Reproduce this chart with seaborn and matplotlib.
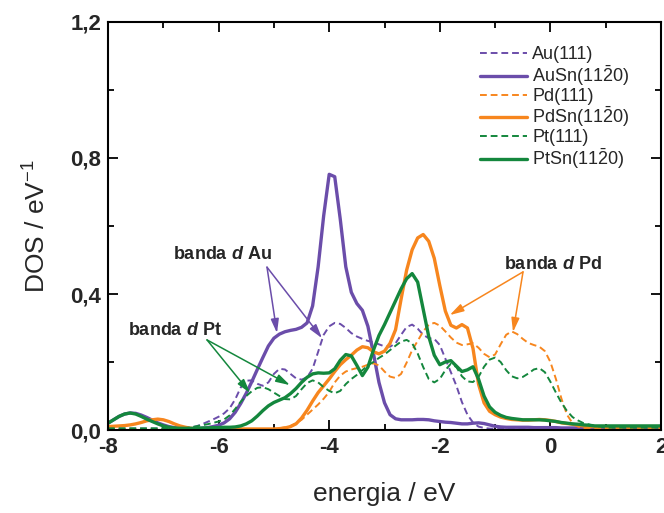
import numpy as np
import pandas as pd
import matplotlib
matplotlib.use("Agg")
import matplotlib.pyplot as plt
import seaborn as sns
from matplotlib.ticker import MultipleLocator, FuncFormatter

# ---------------- data ----------------
energy = np.round(np.arange(-80, 21) / 10.0, 1)   # eV grid, -8.0 ... 2.0

au_111 = [0.004]*15 + [
    0.007, 0.011, 0.017, 0.024, 0.031, 0.039, 0.049, 0.064, 0.090, 0.125,
    0.145, 0.146, 0.136, 0.130, 0.140, 0.165, 0.180, 0.178, 0.165, 0.152,
    0.148, 0.155, 0.180, 0.230, 0.280, 0.305, 0.315, 0.312, 0.300, 0.285,
    0.275, 0.268, 0.262, 0.258, 0.252, 0.246, 0.245, 0.255, 0.280, 0.303,
    0.310, 0.298, 0.280, 0.270, 0.268, 0.250, 0.210, 0.170, 0.130, 0.082,
    0.045, 0.022, 0.010, 0.006] + [0.004]*32

au_sn = [
    0.020, 0.030, 0.040, 0.047, 0.050, 0.049, 0.044, 0.037, 0.029, 0.021,
    0.015, 0.010, 0.007, 0.005, 0.004, 0.004, 0.004, 0.005, 0.007, 0.010,
    0.014, 0.021, 0.033, 0.052, 0.078, 0.108, 0.142, 0.178, 0.213, 0.247,
    0.270, 0.282, 0.289, 0.293, 0.296, 0.302, 0.315, 0.365, 0.480, 0.630,
    0.752, 0.745, 0.620, 0.480, 0.405, 0.372, 0.352, 0.305, 0.225, 0.140,
    0.080, 0.045, 0.033, 0.030, 0.030, 0.030, 0.031, 0.031, 0.030, 0.027,
    0.025, 0.023, 0.022, 0.020, 0.018, 0.018, 0.020, 0.021, 0.019, 0.015,
    0.011, 0.009, 0.008, 0.008, 0.008, 0.008, 0.008, 0.007, 0.007, 0.007,
    0.007, 0.007, 0.006, 0.006, 0.006, 0.006, 0.006, 0.006, 0.005, 0.005,
    0.005, 0.005, 0.005, 0.005, 0.005, 0.004, 0.004, 0.004, 0.004, 0.004,
    0.004]

pd_111 = [0.003]*31 + [
    0.005, 0.008, 0.012, 0.020, 0.030, 0.045, 0.060, 0.075, 0.092, 0.112,
    0.140, 0.160, 0.172, 0.178, 0.182, 0.186, 0.192, 0.196, 0.190, 0.172,
    0.157, 0.153, 0.165, 0.198, 0.235, 0.262, 0.290, 0.310, 0.315, 0.307,
    0.290, 0.272, 0.257, 0.250, 0.252, 0.255, 0.242, 0.224, 0.214, 0.222,
    0.252, 0.280, 0.290, 0.282, 0.268, 0.256, 0.250, 0.245, 0.232, 0.200,
    0.150, 0.092, 0.045, 0.020, 0.010] + [0.005]*15

pd_sn = [
    0.010, 0.011, 0.012, 0.013, 0.015, 0.018, 0.022, 0.027, 0.030, 0.032,
    0.030, 0.025, 0.018, 0.012, 0.008, 0.005] + [0.003]*15 + [
    0.004, 0.006, 0.010, 0.018, 0.035, 0.058, 0.085, 0.110, 0.130, 0.150,
    0.172, 0.192, 0.207, 0.220, 0.235, 0.245, 0.242, 0.230, 0.224, 0.232,
    0.255, 0.295, 0.385, 0.470, 0.530, 0.565, 0.575, 0.555, 0.505, 0.425,
    0.350, 0.308, 0.300, 0.310, 0.300, 0.240, 0.135, 0.080, 0.055, 0.045,
    0.038, 0.034, 0.031, 0.030, 0.029, 0.029, 0.030, 0.031, 0.030, 0.028,
    0.025, 0.021, 0.019, 0.017, 0.014, 0.012] + [0.010]*14

pt_111 = [0.005]*15 + [
    0.008, 0.011, 0.014, 0.017, 0.021, 0.025, 0.031, 0.043, 0.062, 0.083,
    0.100, 0.114, 0.124, 0.126, 0.120, 0.110, 0.100, 0.091, 0.090, 0.100,
    0.120, 0.138, 0.146, 0.140, 0.126, 0.115, 0.108, 0.115, 0.135, 0.150,
    0.162, 0.176, 0.190, 0.200, 0.212, 0.222, 0.235, 0.248, 0.260, 0.265,
    0.255, 0.225, 0.185, 0.150, 0.140, 0.150, 0.176, 0.195, 0.185, 0.158,
    0.143, 0.141, 0.156, 0.186, 0.207, 0.213, 0.200, 0.176, 0.158, 0.152,
    0.156, 0.166, 0.178, 0.182, 0.170, 0.142, 0.110, 0.080, 0.056, 0.038,
    0.028, 0.020, 0.016, 0.012, 0.010] + [0.007]*11

pt_sn = [
    0.020, 0.030, 0.040, 0.047, 0.050, 0.047, 0.040, 0.032, 0.025, 0.018,
    0.012, 0.008, 0.006, 0.005, 0.005, 0.005, 0.005, 0.006, 0.006, 0.007,
    0.007, 0.008, 0.008, 0.009, 0.012, 0.018, 0.027, 0.041, 0.057, 0.071,
    0.081, 0.088, 0.095, 0.107, 0.122, 0.140, 0.155, 0.165, 0.168, 0.167,
    0.168, 0.180, 0.205, 0.222, 0.218, 0.190, 0.160, 0.185, 0.235, 0.278,
    0.310, 0.345, 0.380, 0.415, 0.445, 0.460, 0.435, 0.355, 0.275, 0.220,
    0.192, 0.200, 0.204, 0.188, 0.172, 0.177, 0.186, 0.150, 0.100, 0.068,
    0.052, 0.043, 0.037, 0.034, 0.032, 0.030, 0.030, 0.030, 0.030, 0.029,
    0.027, 0.025, 0.022, 0.020, 0.018, 0.017, 0.015, 0.014] + [0.012]*13

labels = ["Au(111)", r"AuSn(11$\bar{2}$0)", "Pd(111)", r"PdSn(11$\bar{2}$0)",
          "Pt(111)", r"PtSn(11$\bar{2}$0)"]
series = [au_111, au_sn, pd_111, pd_sn, pt_111, pt_sn]

purple, orange, green = "#6B4DAA", "#F7861E", "#14873D"
colors = [purple, purple, orange, orange, green, green]
dashed = [True, False, True, False, True, False]

# ---------------- style ----------------
sns.set_theme(style="ticks")
plt.rcParams["font.family"] = ["Liberation Sans", "DejaVu Sans"]
plt.rcParams["mathtext.fontset"] = "custom"
plt.rcParams["mathtext.rm"] = "Liberation Sans"
plt.rcParams["mathtext.it"] = "Liberation Sans:italic:bold"
plt.rcParams["mathtext.bf"] = "Liberation Sans:bold"

fig = plt.figure(figsize=(6.64, 5.13), dpi=100)
ax = fig.add_axes([108/664, 1-430/513, (661-108)/664, (430-22)/513])

for y, lab, c, d in zip(series, labels, colors, dashed):
    df = pd.DataFrame({"energia": energy, "DOS": y})
    if d:
        sns.lineplot(data=df, x="energia", y="DOS", ax=ax, color=c, lw=1.4,
                     label=lab, dashes=False, linestyle=(0, (3.5, 2.0)))
    else:
        sns.lineplot(data=df, x="energia", y="DOS", ax=ax, color=c, lw=2.4,
                     label=lab)

ax.set_xlim(-8, 2)
ax.set_ylim(0, 1.2)
ax.xaxis.set_major_locator(MultipleLocator(2))
ax.xaxis.set_minor_locator(MultipleLocator(1))
ax.yaxis.set_major_locator(MultipleLocator(0.4))
ax.yaxis.set_minor_locator(MultipleLocator(0.2))
ax.yaxis.set_major_formatter(FuncFormatter(lambda v, p: f"{v:.1f}".replace(".", ",")))
ax.xaxis.set_major_formatter(FuncFormatter(lambda v, p: f"{v:.0f}"))

for s in ax.spines.values():
    s.set_linewidth(1.5)
    s.set_color("black")
ax.tick_params(which="both", direction="in", top=True, right=True, width=1.3, color="black")
ax.tick_params(which="major", length=7, labelsize=16, pad=5)
ax.tick_params(which="minor", length=4)
for t in ax.get_xticklabels() + ax.get_yticklabels():
    t.set_fontweight("bold")

ax.set_xlabel("energia / eV", fontsize=19, labelpad=17)
ax.set_ylabel(r"DOS / eV$^{-1}$", fontsize=19, labelpad=14)

leg = ax.legend(loc="upper left", bbox_to_anchor=(0.673, 0.94), frameon=False,
                fontsize=13, handlelength=2.6, handletextpad=0.28,
                labelspacing=0.0, borderpad=0, borderaxespad=0)

# annotations
akw = dict(fontsize=13, fontweight="bold", ha="center", va="center")
ax.text(-5.94, 0.515, r"banda $d$ Au", **akw)
ax.text(-6.79, 0.294, r"banda $d$ Pt", **akw)
ax.text(0.05, 0.488, r"banda $d$ Pd", **akw)

def arrow(start, end, c):
    ax.annotate("", xy=end, xytext=start,
                arrowprops=dict(arrowstyle="-|>,head_length=0.7,head_width=0.2",
                                color=c, lw=1.1, shrinkA=0, shrinkB=0))

arrow((-5.125, 0.479), (-4.944, 0.285), purple)
arrow((-5.125, 0.479), (-4.13, 0.27), purple)
arrow((-6.21, 0.265), (-5.43, 0.109), green)
arrow((-6.21, 0.265), (-4.71, 0.132), green)
arrow((-0.495, 0.465), (-1.82, 0.338), orange)
arrow((-0.495, 0.465), (-0.676, 0.288), orange)

fig.savefig("out.png", dpi=100)
